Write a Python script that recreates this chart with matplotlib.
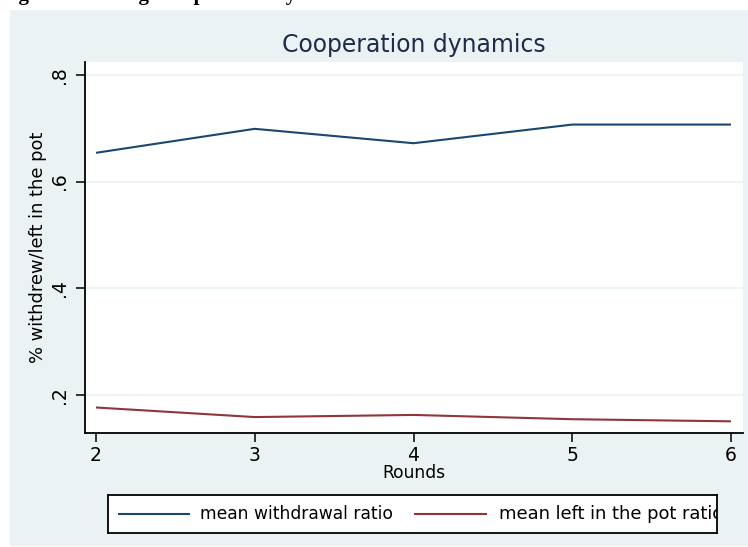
import matplotlib
matplotlib.use("Agg")
import matplotlib.pyplot as plt
from matplotlib.patches import Rectangle

# ---- data ----
rounds = [2, 3, 4, 5, 6]
withdrawal = [0.654, 0.699, 0.672, 0.707, 0.707]
left_in_pot = [0.176, 0.158, 0.162, 0.154, 0.150]
yticks = [0.2, 0.4, 0.6, 0.8]
ytick_labels = [".2", ".4", ".6", ".8"]
series_labels = ["mean withdrawal ratio", "mean left in the pot ratio"]
title = "Cooperation dynamics"
xlabel = "Rounds"
ylabel = "% withdrew/left in the pot"
caption = "Figure 4: Average cooperation dynamics"

W, H = 748, 547
DPI = 100
BG = "#eaf2f3"
TXT = "#1e2b4a"
BLUE = "#1a476f"
RED = "#90353b"

plt.rcParams["font.family"] = ["DejaVu Sans"]

fig = plt.figure(figsize=(W / DPI, H / DPI), dpi=DPI)
fig.patch.set_facecolor("white")

def fx(px):
    return px / W

def fy(py):
    return 1 - py / H

# graph region background
fig.patches.append(Rectangle((fx(10), fy(546)), fx(748) - fx(10), fy(10) - fy(546),
                             transform=fig.transFigure, facecolor=BG, edgecolor="none", zorder=-5))

# cropped caption at the very top (only its lower edge is visible, as in the reference)
fig.text(fx(0), fy(0.3), caption, fontsize=15, fontweight="bold",
         family=["Liberation Serif", "DejaVu Serif"], color="black", va="baseline", ha="left")

left, right, top, bottom = 85, 742.7, 61.7, 433.0
ax = fig.add_axes([fx(left), fy(bottom), fx(right) - fx(left), fy(top) - fy(bottom)])
ax.set_facecolor("white")

ax.plot(rounds, withdrawal, color=BLUE, lw=1.5, solid_capstyle="butt", zorder=3)
ax.plot(rounds, left_in_pot, color=RED, lw=1.5, solid_capstyle="butt", zorder=3)

ax.set_xlim(1.9307, 6.0737)
ax.set_ylim(0.1281, 0.825)
ax.set_xticks(rounds)
ax.set_xticklabels([str(r) for r in rounds])
ax.set_yticks(yticks)
ax.set_yticklabels(ytick_labels, rotation=90, va="center")
ax.grid(axis="y", color=BG, lw=1.2)
ax.set_axisbelow(True)

for s in ["top", "right"]:
    ax.spines[s].set_visible(False)
for s in ["left", "bottom"]:
    ax.spines[s].set_linewidth(1.3)
    ax.spines[s].set_color("black")

ax.tick_params(axis="both", direction="out", length=6.5, width=1.1, color="black",
               labelsize=13.5, labelcolor="black")
ax.tick_params(axis="y", pad=5)
ax.tick_params(axis="x", pad=3)

fig.canvas.draw()
renderer = fig.canvas.get_renderer()

def fit_text(t, target_px):
    bb = t.get_window_extent(renderer)
    w = bb.width if t.get_rotation() == 0 else bb.height
    t.set_fontsize(t.get_fontsize() * target_px / w)

# title
t_title = fig.text(fx((left + right) / 2), fy(45), title, ha="center", va="center",
                   color=TXT, fontsize=16)
fit_text(t_title, 265)

# axis labels
t_x = fig.text(fx(414), fy(473), xlabel, ha="center", va="center", color="black", fontsize=12)
fit_text(t_x, 63)
t_y = fig.text(fx(38), fy(247), ylabel, ha="center", va="center", rotation=90,
               color="black", fontsize=12)
fit_text(t_y, 230)

# legend box
lx0, lx1, ly0, ly1 = 108, 717, 495, 532.7
lax = fig.add_axes([fx(lx0), fy(ly1), fx(lx1) - fx(lx0), fy(ly0) - fy(ly1)])
lax.set_facecolor("white")
lax.set_xlim(lx0, lx1)
lax.set_ylim(ly1, ly0)
lax.set_xticks([])
lax.set_yticks([])
for s in lax.spines.values():
    s.set_linewidth(1.3)
    s.set_color("black")
ymid = (ly0 + ly1) / 2
lax.plot([119, 189], [ymid, ymid], color=BLUE, lw=1.5)
lax.plot([415, 486], [ymid, ymid], color=RED, lw=1.5)
t1 = lax.text(200, ymid, series_labels[0], ha="left", va="center", color="black",
              fontsize=12, clip_on=True)
fit_text(t1, 192)
t2 = lax.text(499, ymid, series_labels[1], ha="left", va="center", color="black",
              fontsize=12, clip_on=True)
fit_text(t2, 224)

fig.savefig("out.png", dpi=DPI, facecolor="white")
